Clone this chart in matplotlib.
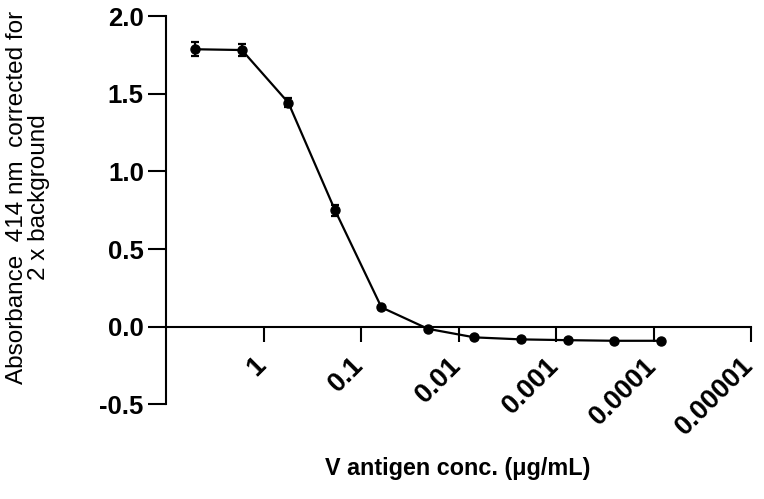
import matplotlib
matplotlib.use("Agg")
import matplotlib.pyplot as plt
from matplotlib.ticker import FixedLocator, FixedFormatter, NullLocator
import matplotlib.transforms as mtransforms

conc = [5, 1.667, 0.556, 0.185, 0.0617, 0.0206, 0.00686, 0.00229, 0.000762, 0.000254, 0.0000847]
absorb = [1.786, 1.781, 1.442, 0.751, 0.125, -0.013, -0.068, -0.081, -0.086, -0.090, -0.090]
err = [0.045, 0.040, 0.029, 0.035, 0.010, 0.008, 0.008, 0.006, 0.006, 0.006, 0.006]
xticks = [1, 0.1, 0.01, 0.001, 0.0001, 0.00001]
xticklabels = ["1", "0.1", "0.01", "0.001", "0.0001", "0.00001"]
yticks = [-0.5, 0.0, 0.5, 1.0, 1.5, 2.0]

plt.rcParams['font.family'] = ['Liberation Sans', 'DejaVu Sans']

fig = plt.figure(figsize=(7.64, 4.99), dpi=100)
ax = fig.add_axes([166/764, 1 - 404.5/499, 585/764, 388.5/499])

ax.errorbar(conc, absorb, yerr=err, color='black', marker='o', markersize=6.5,
            linewidth=1.6, elinewidth=1.6, capsize=3, capthick=1.6, zorder=3)

ax.set_xscale('log')
ax.set_xlim(10, 1e-5)
ax.set_ylim(-0.5, 2.0)

ax.spines['top'].set_visible(False)
ax.spines['right'].set_visible(False)
ax.spines['bottom'].set_position(('data', 0))
for s in ('left', 'bottom'):
    ax.spines[s].set_linewidth(1.5)

ax.xaxis.set_major_locator(FixedLocator(xticks))
ax.xaxis.set_major_formatter(FixedFormatter(xticklabels))
ax.xaxis.set_minor_locator(NullLocator())
ax.set_yticks(yticks)
ax.set_yticklabels([f"{v:.1f}" for v in yticks])

ax.tick_params(axis='x', which='major', direction='out', length=10.5, width=1.5,
               labelsize=19.5, pad=8)
ax.tick_params(axis='y', which='major', direction='out', length=13, width=1.5,
               labelsize=18.5, pad=3)

offset = mtransforms.ScaledTranslation(8/100, 0, fig.dpi_scale_trans)
for lbl in ax.get_xticklabels():
    lbl.set_rotation(45)
    lbl.set_ha('right')
    lbl.set_va('top')
    lbl.set_fontweight('bold')
    lbl.set_transform(lbl.get_transform() + offset)
for lbl in ax.get_yticklabels():
    lbl.set_fontweight('bold')

fig.text(458/764, 1 - 468/499, "V antigen conc. (\u03bcg/mL)", ha='center', va='center',
         fontsize=16.8, fontweight='bold')
fig.text(28/764, 1 - 197/499, "Absorbance  414 nm  corrected for\n2 x background",
         ha='center', va='center', rotation=90, fontsize=17.5, linespacing=1.05)

fig.savefig("out.png", dpi=100)
